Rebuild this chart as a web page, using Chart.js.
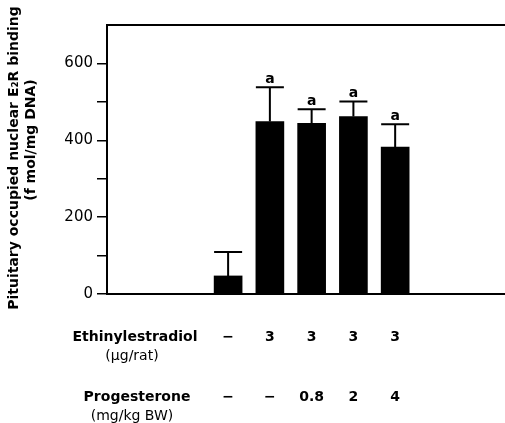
<!DOCTYPE html>
<html>
<head>
<meta charset="utf-8">
<script src="https://cdn.jsdelivr.net/npm/chart.js@4"></script>
<style>
  body { margin: 0; background: #fff; }
  canvas { display: block; }
</style>
</head>
<body>
<canvas id="chart" width="505" height="423"></canvas>
<script>
// groups (x positions 1..5)
const groups = [1, 2, 3, 4, 5];
const binding = [47, 449, 444, 462, 382];
const sem = [62, 89, 37, 39, 60];
const sigLabels = ['', 'a', 'a', 'a', 'a'];
const ethinylDose = ['−', '3', '3', '3', '3'];
const progDose = ['−', '−', '0.8', '2', '4'];
const yTicks = [0, 200, 400, 600];

const FONT = 'DejaVu Sans';

const errorBars = {
  id: 'errorBars',
  afterDatasetsDraw(chart) {
    const ctx = chart.ctx;
    const y = chart.scales.y;
    const meta = chart.getDatasetMeta(0);
    ctx.save();
    ctx.strokeStyle = '#000';
    ctx.lineWidth = 2;
    ctx.fillStyle = '#000';
    ctx.font = 'bold 14px ' + FONT;
    ctx.textAlign = 'center';
    ctx.textBaseline = 'alphabetic';
    meta.data.forEach((bar, i) => {
      const top = y.getPixelForValue(binding[i] + sem[i]);
      const half = bar.width / 2;
      ctx.beginPath();
      ctx.moveTo(bar.x, bar.y);
      ctx.lineTo(bar.x, top);
      ctx.moveTo(bar.x - half, top);
      ctx.lineTo(bar.x + half, top);
      ctx.stroke();
      if (sigLabels[i]) ctx.fillText(sigLabels[i], bar.x, top - 4);
    });
    ctx.restore();
  }
};

const frameAndText = {
  id: 'frameAndText',
  afterDraw(chart) {
    const ctx = chart.ctx;
    const area = chart.chartArea;
    const x = chart.scales.x;
    ctx.save();
    // top frame line
    ctx.strokeStyle = '#000';
    ctx.lineWidth = 2;
    ctx.beginPath();
    ctx.moveTo(area.left - 1, area.top);
    ctx.lineTo(area.right, area.top);
    ctx.stroke();

    ctx.fillStyle = '#000';
    ctx.textAlign = 'center';
    ctx.textBaseline = 'middle';

    // treatment table under the axis
    ctx.font = 'bold 14px ' + FONT;
    ctx.fillText('Ethinylestradiol', 135, 337);
    ctx.fillText('Progesterone', 137, 397);
    ctx.font = '14px ' + FONT;
    ctx.fillText('(µg/rat)', 132, 356);
    ctx.fillText('(mg/kg BW)', 132, 416);
    ctx.font = 'bold 14px ' + FONT;
    groups.forEach((g, i) => {
      const px = x.getPixelForValue(g);
      ctx.fillText(ethinylDose[i], px, 337);
      ctx.fillText(progDose[i], px, 397);
    });

    // y axis title
    ctx.save();
    ctx.translate(14, 158);
    ctx.rotate(-Math.PI / 2);
    ctx.font = 'bold 14px ' + FONT;
    ctx.fillText('Pituitary occupied nuclear E₂R binding', 0, 0);
    ctx.restore();
    ctx.save();
    ctx.translate(31, 140);
    ctx.rotate(-Math.PI / 2);
    ctx.font = 'bold 14px ' + FONT;
    ctx.fillText('(f mol/mg DNA)', 0, 0);
    ctx.restore();

    ctx.restore();
  }
};

new Chart(document.getElementById('chart'), {
  type: 'bar',
  data: {
    datasets: [{
      data: groups.map((g, i) => ({ x: g, y: binding[i] })),
      backgroundColor: '#000',
      borderWidth: 0,
      barThickness: 28
    }]
  },
  options: {
    responsive: false,
    animation: false,
    layout: { padding: { top: 25, right: 0, left: 0, bottom: 0 } },
    plugins: { legend: { display: false }, tooltip: { enabled: false } },
    scales: {
      x: {
        type: 'linear',
        min: -1.9,
        max: 7.63,
        offset: false,
        grid: { display: false },
        ticks: { display: false },
        border: { display: true, color: '#000', width: 2 },
        afterFit(s) { s.height = 129; }
      },
      y: {
        min: 0,
        max: 700,
        afterBuildTicks(s) {
          s.ticks = [0, 100, 200, 300, 400, 500, 600].map(v => ({ value: v }));
        },
        ticks: {
          color: '#000',
          padding: 4,
          font: { family: FONT, size: 15 },
          callback: v => yTicks.includes(v) ? String(v) : ''
        },
        grid: { drawOnChartArea: false, drawTicks: true, tickLength: 10, color: '#000', lineWidth: 1.5 },
        border: { display: true, color: '#000', width: 2 },
        afterFit(s) { s.width = 107; }
      }
    }
  },
  plugins: [errorBars, frameAndText]
});
</script>
</body>
</html>
